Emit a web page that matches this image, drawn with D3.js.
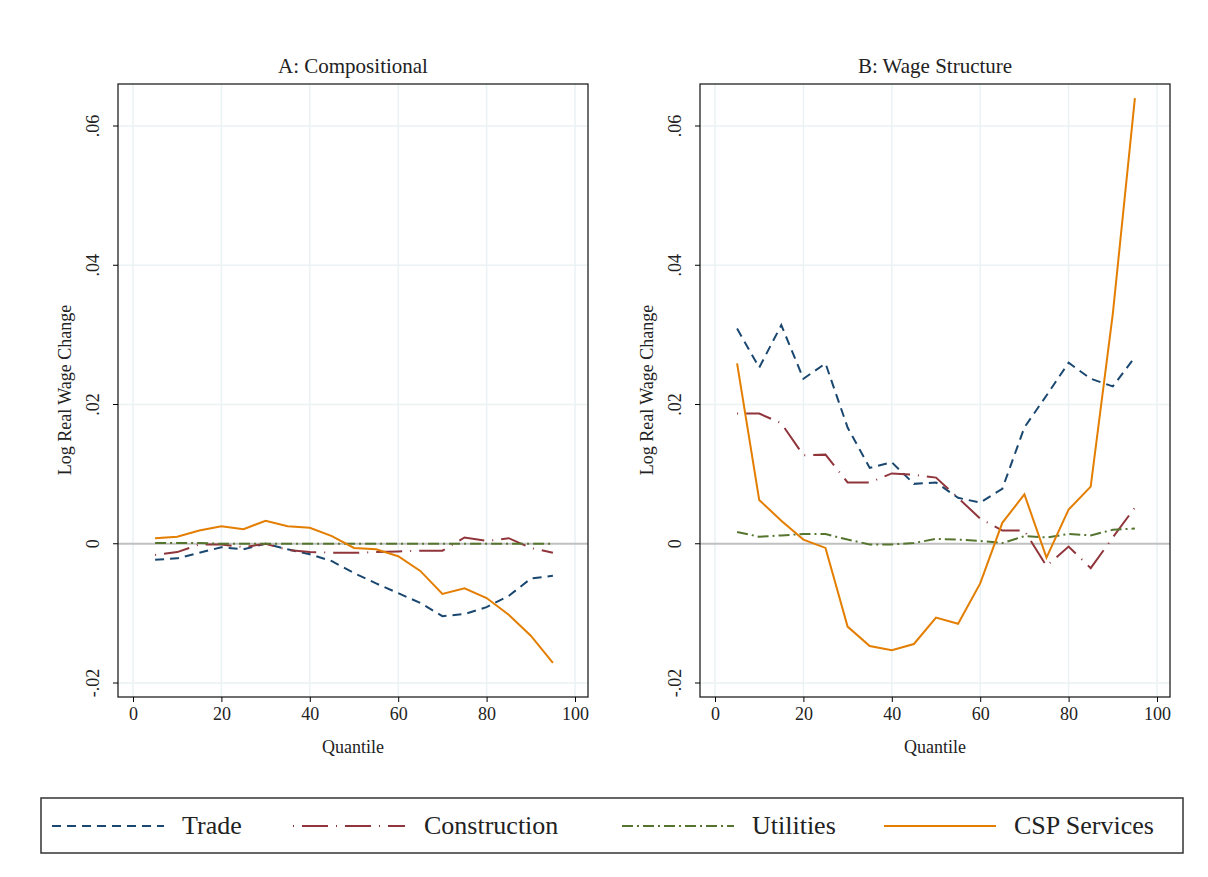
<!DOCTYPE html>
<html>
<head>
<meta charset="utf-8">
<script src="https://cdn.jsdelivr.net/npm/d3@7"></script>
<style>
  body { margin: 0; background: #fff; }
  text { font-family: "Liberation Serif", "DejaVu Serif", serif; fill: #222; }
</style>
</head>
<body>
<svg id="chart" width="1208" height="877"></svg>
<script>
// quantiles
var quantiles = [5, 10, 15, 20, 25, 30, 35, 40, 45, 50, 55, 60, 65, 70, 75, 80, 85, 90, 95];

// Panel A: compositional
var tradeA = [-0.0023, -0.0021, -0.0013, -0.0005, -0.0008, 0.0000, -0.0008, -0.0015, -0.0025, -0.0042, -0.0057, -0.0071, -0.0085, -0.0104, -0.0101, -0.0091, -0.0075, -0.0050, -0.0046];
var constrA = [-0.0016, -0.0012, -0.0001, -0.0001, -0.0005, 0.0000, -0.0009, -0.0012, -0.0013, -0.0013, -0.0012, -0.0011, -0.0010, -0.0010, 0.0009, 0.0004, 0.0008, -0.0006, -0.0013];
var utilA = [0.0001, 0.0001, 0.0001, 0.0000, 0.0000, 0.0000, 0.0000, 0.0000, 0.0000, 0.0000, 0.0000, 0.0000, 0.0000, 0.0000, 0.0000, 0.0000, 0.0000, 0.0000, 0.0000];
var cspA = [0.0008, 0.0010, 0.0019, 0.0025, 0.0021, 0.0033, 0.0025, 0.0023, 0.0011, -0.0006, -0.0008, -0.0018, -0.0039, -0.0072, -0.0064, -0.0078, -0.0102, -0.0132, -0.0171];

// Panel B: wage structure
var tradeB = [0.0309, 0.0253, 0.0314, 0.0237, 0.0259, 0.0167, 0.0109, 0.0117, 0.0086, 0.0088, 0.0066, 0.0059, 0.0079, 0.0167, 0.0213, 0.0260, 0.0237, 0.0226, 0.0268];
var constrB = [0.0187, 0.0187, 0.0173, 0.0127, 0.0128, 0.0088, 0.0088, 0.0101, 0.0099, 0.0095, 0.0066, 0.0036, 0.0019, 0.0019, -0.0032, -0.0004, -0.0035, 0.0009, 0.0052];
var utilB = [0.0017, 0.0010, 0.0012, 0.0014, 0.0014, 0.0006, -0.0001, -0.0001, 0.0001, 0.0007, 0.0006, 0.0004, 0.0001, 0.0011, 0.0009, 0.0014, 0.0012, 0.0020, 0.0022];
var cspB = [0.0259, 0.0063, 0.0033, 0.0006, -0.0006, -0.0119, -0.0147, -0.0153, -0.0144, -0.0106, -0.0115, -0.0057, 0.0030, 0.0071, -0.0020, 0.0049, 0.0082, 0.0330, 0.0640];

var xTicks = [0, 20, 40, 60, 80, 100];
var yTicks = [-0.02, 0, 0.02, 0.04, 0.06];
var yTickLabels = ["-.02", "0", ".02", ".04", ".06"];

var series = [
  { name: "Trade", color: "#1a476f", dash: "9,6" },
  { name: "Construction", color: "#90353b", dash: "1,8,26,8" },
  { name: "Utilities", color: "#55752f", dash: "11,4,2,4" },
  { name: "CSP Services", color: "#e37e00", dash: null }
];

var panels = [
  { title: "A: Compositional", left: 118, right: 588, values: [tradeA, constrA, utilA, cspA] },
  { title: "B: Wage Structure", left: 700, right: 1170, values: [tradeB, constrB, utilB, cspB] }
];

var svg = d3.select("#chart");
var plotTop = 84, plotBottom = 697;

panels.forEach(function (p) {
  var x = d3.scaleLinear().domain([0, 100]).range([p.left + 15, p.right - 13]);
  var y = d3.scaleLinear().domain([-0.02, 0.06]).range([683, 126]);
  var g = svg.append("g");

  // grid
  g.selectAll(".vg").data(xTicks).enter().append("line")
    .attr("x1", d => x(d)).attr("x2", d => x(d)).attr("y1", plotTop).attr("y2", plotBottom)
    .attr("stroke", "#eaf2f3").attr("stroke-width", 1.5);
  g.selectAll(".hg").data(yTicks.filter(d => d !== 0)).enter().append("line")
    .attr("x1", p.left).attr("x2", p.right).attr("y1", d => y(d)).attr("y2", d => y(d))
    .attr("stroke", "#eaf2f3").attr("stroke-width", 1.5);
  g.append("line").attr("x1", p.left).attr("x2", p.right).attr("y1", y(0)).attr("y2", y(0))
    .attr("stroke", "#c0c0c0").attr("stroke-width", 2);

  // frame
  g.append("rect").attr("x", p.left).attr("y", plotTop).attr("width", p.right - p.left).attr("height", plotBottom - plotTop)
    .attr("fill", "none").attr("stroke", "#222").attr("stroke-width", 1.3);

  // axes
  var xAxis = d3.axisBottom(x).tickValues(xTicks).tickSize(5).tickPadding(5);
  var gx = g.append("g").attr("transform", "translate(0," + plotBottom + ")").call(xAxis);
  gx.select(".domain").remove();
  gx.selectAll("text").style("font-size", "18px").style("font-family", "Liberation Serif").attr("fill", "#222");

  var yAxis = d3.axisLeft(y).tickValues(yTicks).tickSize(5).tickFormat((d, i) => yTickLabels[i]);
  var gy = g.append("g").attr("transform", "translate(" + p.left + ",0)").call(yAxis);
  gy.select(".domain").remove();
  gy.selectAll(".tick").attr("transform", null);
  gy.selectAll(".tick line").attr("y1", d => y(d)).attr("y2", d => y(d));
  gy.selectAll("text").style("font-size", "18px").style("font-family", "Liberation Serif").attr("fill", "#222")
    .attr("x", -19).attr("y", d => y(d)).attr("dy", "0").attr("text-anchor", "middle")
    .attr("transform", d => "rotate(-90,-19," + y(d) + ")");

  g.append("text").attr("x", (p.left + p.right) / 2).attr("y", 73).attr("text-anchor", "middle")
    .style("font-size", "21px").text(p.title);
  g.append("text").attr("x", (p.left + p.right) / 2).attr("y", 753).attr("text-anchor", "middle")
    .style("font-size", "18px").text("Quantile");
  g.append("text").attr("transform", "translate(" + (p.left - 47) + ",390) rotate(-90)")
    .attr("text-anchor", "middle").style("font-size", "18px").text("Log Real Wage Change");

  var line = d3.line().x((d, i) => x(quantiles[i])).y(d => y(d));
  p.values.forEach(function (vals, k) {
    g.append("path").datum(vals).attr("d", line).attr("fill", "none")
      .attr("stroke", series[k].color).attr("stroke-width", 2)
      .attr("stroke-dasharray", series[k].dash);
  });
});

// legend
var lg = svg.append("g");
lg.append("rect").attr("x", 41).attr("y", 798).attr("width", 1142).attr("height", 55)
  .attr("fill", "#fff").attr("stroke", "#333").attr("stroke-width", 1.5);
var legX = [52, 293, 622, 884];
var legText = [182, 424, 752, 1014];
series.forEach(function (s, i) {
  lg.append("line").attr("x1", legX[i]).attr("x2", legX[i] + 112).attr("y1", 826).attr("y2", 826)
    .attr("stroke", s.color).attr("stroke-width", 2).attr("stroke-dasharray", s.dash);
  lg.append("text").attr("x", legText[i]).attr("y", 834).style("font-size", "26px").text(s.name);
});
</script>
</body>
</html>
